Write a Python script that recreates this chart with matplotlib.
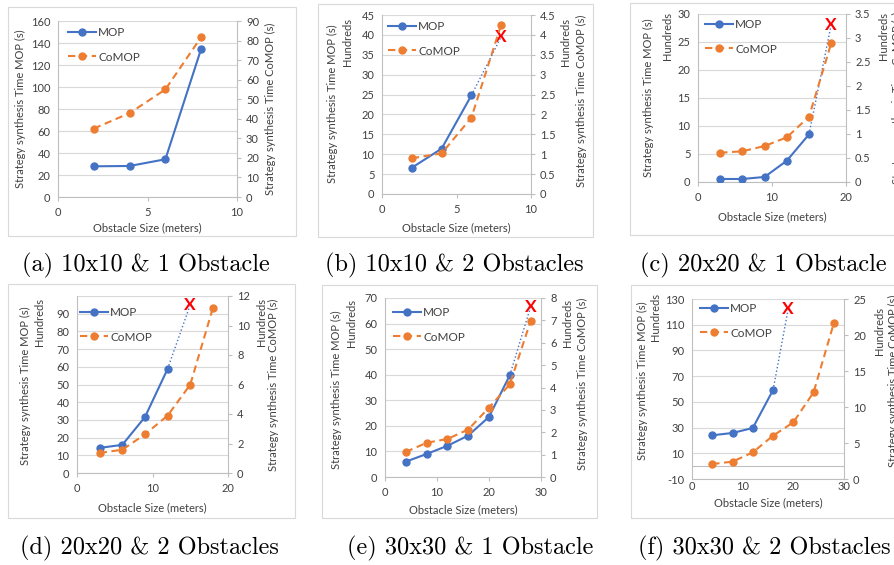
import matplotlib
matplotlib.use('Agg')
import matplotlib.pyplot as plt
from matplotlib.lines import Line2D
from matplotlib.patches import Rectangle
from matplotlib.ticker import FuncFormatter
import numpy as np

W, H = 894, 565
plt.rcParams['font.family'] = ['Lato', 'DejaVu Sans']

BLUE = '#4472C4'
ORANGE = '#ED7D31'
GRID = '#D9D9D9'
AXC = '#BFBFBF'
TXT = '#404040'

# ---------------- data ----------------
a_x = [2, 4, 6, 8]
a_mop = [27.9, 28.2, 34.3, 134.8]
a_comop = [35.0, 42.9, 55.0, 81.8]

b_x = [2, 4, 6, 8]
b_mop = [6.6, 11.4, 24.8]
b_comop = [0.90, 1.02, 1.92, 4.26]
b_fail = (8, 39.5)

c_x = [3, 6, 9, 12, 15, 18]
c_mop = [0.54, 0.54, 0.9, 3.8, 8.5]
c_comop = [0.61, 0.64, 0.75, 0.93, 1.36, 2.89]
c_fail = (18, 28.1)

d_x = [3, 6, 9, 12, 15, 18]
d_mop = [14.2, 15.9, 31.6, 58.8]
d_comop = [1.36, 1.58, 2.62, 3.89, 5.99, 11.19]
d_fail = (15, 95.1)

e_x = [4, 8, 12, 16, 20, 24, 28]
e_mop = [6.0, 9.0, 12.2, 16.2, 23.5, 39.8]
e_comop = [1.12, 1.53, 1.70, 2.12, 3.10, 4.14, 6.97]
e_fail = (28, 66.5)

f_x = [4, 8, 12, 16, 20, 24, 28]
f_mop = [24.0, 25.8, 29.7, 59.2]
f_comop = [2.08, 2.41, 3.70, 6.02, 7.87, 12.04, 21.67]
f_fail = (19, 122.5)

captions = ['(a) 10x10 & 1 Obstacle', '(b) 10x10 & 2 Obstacles', '(c) 20x20 & 1 Obstacle',
            '(d) 20x20 & 2 Obstacles', '(e) 30x30 & 1 Obstacle', '(f) 30x30 & 2 Obstacles']

ylabel_mop = 'Strategy synthesis Time MOP (s)'
ylabel_comop = 'Strategy synthesis Time CoMOP (s)'
xlabel = 'Obstacle Size (meters)'

fig = plt.figure(figsize=(W / 100, H / 100), dpi=100)


def fx(x):
    return x / W


def fy(y):
    return 1 - y / H


def gfmt(v, pos):
    return '{:g}'.format(round(v, 3))


panels = [
    dict(x=a_x, mop=a_mop, comop=a_comop, fail=None,
         plot=(58, 21, 237, 197), border=(8, 7, 296, 236),
         xlim=(0, 10), xticks=[0, 5, 10], ylim=(0, 160), ystep=20, y2lim=(0, 90), y2step=10,
         hundreds=None, llab=(20, 109), rlab=(270, 109), xlab_y=228, leg=(68, 27), cap=(22, 265)),
    dict(x=b_x, mop=b_mop, comop=b_comop, fail=b_fail,
         plot=(382, 15, 531, 194), border=(318, 4, 593, 237),
         xlim=(0, 10), xticks=[0, 5, 10], ylim=(0, 45), ystep=5, y2lim=(0, 4.5), y2step=0.5,
         hundreds=((348, 42), (566, 42)), llab=(332, 104), rlab=(581, 101), xlab_y=228,
         leg=(388, 21), cap=(325, 265)),
    dict(x=c_x, mop=c_mop, comop=c_comop, fail=c_fail,
         plot=(698, 14, 846, 182), border=(630, 3, 910, 235),
         xlim=(0, 20), xticks=[0, 10, 20], ylim=(0, 30), ystep=5, y2lim=(0, 3.5), y2step=0.5,
         hundreds=((667, 36), (883, 36)), llab=(648, 98), rlab=(897, 98), xlab_y=217,
         leg=(705, 19), cap=(640, 265)),
    dict(x=d_x, mop=d_mop, comop=d_comop, fail=d_fail,
         plot=(77, 296, 228, 473), border=(8, 284, 295, 518),
         xlim=(0, 20), xticks=[0, 10, 20], ylim=(0, 100), ystep=10, y2lim=(0, 12), y2step=2,
         hide_top=True,
         hundreds=((40, 322), (262, 322)), llab=(25, 386), rlab=(273, 385), xlab_y=508,
         leg=(80, 307), cap=(20, 548)),
    dict(x=e_x, mop=e_mop, comop=e_comop, fail=e_fail,
         plot=(385, 298, 541, 477), border=(322, 285, 597, 518),
         xlim=(0, 30), xticks=[0, 10, 20, 30], ylim=(0, 70), ystep=10, y2lim=(0, 8), y2step=1,
         hundreds=((352, 323), (567, 323)), llab=(336, 390), rlab=(582, 384), xlab_y=510,
         leg=(393, 307), cap=(347, 548)),
    dict(x=f_x, mop=f_mop, comop=f_comop, fail=f_fail,
         plot=(692, 299, 844, 479), border=(631, 285, 910, 518),
         xlim=(0, 30), xticks=[0, 10, 20, 30], ylim=(-10, 130), ystep=20, y2lim=(0, 25), y2step=5,
         zero_line=True,
         hundreds=((655, 317), (880, 331)), llab=(642, 381), rlab=(893, 381), xlab_y=503,
         leg=(700, 303), cap=(638, 548)),
]

MS = 5
for i, p in enumerate(panels):
    l, t, r, b = p['border']
    fig.add_artist(Rectangle((fx(l), fy(b)), (r - l) / W, (b - t) / H, transform=fig.transFigure,
                             fill=False, ec=GRID, lw=0.8))
    l, t, r, b = p['plot']
    ax = fig.add_axes([fx(l), fy(b), (r - l) / W, (b - t) / H])
    ax2 = ax.twinx()
    ax.set_zorder(1)
    ax.patch.set_visible(False)
    ax2.set_zorder(2)

    ax.set_xlim(*p['xlim'])
    ax.set_xticks(p['xticks'])
    ax.set_ylim(*p['ylim'])
    yt = np.arange(p['ylim'][0], p['ylim'][1] + p['ystep'] / 2, p['ystep'])
    ax.set_yticks(yt)
    labels = ['{:g}'.format(v) for v in yt]
    if p.get('hide_top'):
        labels[-1] = ''
    ax.set_yticklabels(labels)
    ax.grid(axis='y', color=GRID, lw=0.8)
    ax.set_axisbelow(True)
    ax2.set_ylim(*p['y2lim'])
    y2t = np.arange(p['y2lim'][0], p['y2lim'][1] + p['y2step'] / 2, p['y2step'])
    ax2.set_yticks(y2t)
    ax2.yaxis.set_major_formatter(FuncFormatter(gfmt))

    for s in ['top', 'right']:
        ax.spines[s].set_visible(False)
    for s in ['top', 'left', 'bottom']:
        ax2.spines[s].set_visible(False)
    ax.spines['left'].set_color(AXC)
    ax.spines['bottom'].set_color(AXC)
    ax2.spines['right'].set_color(AXC)
    for s in ['left', 'bottom']:
        ax.spines[s].set_linewidth(0.8)
    ax2.spines['right'].set_linewidth(0.8)

    ax.tick_params(axis='y', length=0, pad=5.5, labelsize=8, labelcolor=TXT)
    if p.get('zero_line'):
        ax.tick_params(axis='x', length=0, pad=1.5, labelsize=8, labelcolor=TXT)
        ax.axhline(0, color=AXC, lw=0.8, zorder=1.5)
    else:
        ax.tick_params(axis='x', length=3, color=AXC, width=0.8, pad=4, labelsize=8, labelcolor=TXT)
    ax2.tick_params(axis='y', length=3, color=AXC, width=0.8, pad=3.5, labelsize=8, labelcolor=TXT)

    xs = p['x']
    mop = p['mop']
    n = len(mop)
    ax.plot(xs[:n], mop, color=BLUE, lw=1.5, marker='o', ms=MS, zorder=3)
    if p['fail'] is not None:
        fxv, fyv = p['fail']
        ax.plot([xs[n - 1], fxv], [mop[-1], fyv], color=BLUE, lw=1.0, ls=':', zorder=3)
        ax.text(fxv, fyv, 'X', color='#FF0000', fontsize=12.5, fontweight='bold',
                ha='center', va='center', zorder=5)
    ax2.plot(xs, p['comop'], color=ORANGE, lw=1.5, marker='o', ms=MS, dashes=(3.5, 2.2))

    handles = [Line2D([], [], color=BLUE, lw=1.5, marker='o', ms=MS),
               Line2D([], [], color=ORANGE, lw=1.5, marker='o', ms=MS, dashes=(3.5, 2.2))]
    lx, ly = p['leg']
    ax2.legend(handles, ['MOP', 'CoMOP'], loc='upper left', bbox_to_anchor=(fx(lx), fy(ly)),
               bbox_transform=fig.transFigure, frameon=False, fontsize=8.5, handlelength=2.4,
               handletextpad=0.15, labelspacing=1.15, borderpad=0, borderaxespad=0,
               labelcolor=TXT)

    # axis labels
    x0, y0 = p['llab']
    fig.text(fx(x0), fy(y0), ylabel_mop, rotation=90, ha='center', va='center', fontsize=8, color=TXT)
    x0, y0 = p['rlab']
    fig.text(fx(x0), fy(y0), ylabel_comop, rotation=90, ha='center', va='center', fontsize=8, color=TXT)
    if p['hundreds']:
        for (hx, hy) in p['hundreds']:
            fig.text(fx(hx), fy(hy), 'Hundreds', rotation=90, ha='center', va='center', fontsize=8, color=TXT)
    fig.text(fx((l + r) / 2), fy(p['xlab_y']), xlabel, ha='center', va='center', fontsize=8, color=TXT)

    cx, cy = p['cap']
    fig.text(fx(cx), fy(cy), captions[i], ha='left', va='center', fontsize=17.5,
             family=['cmr10', 'DejaVu Serif'], color='black')

fig.savefig('out.png', dpi=100)
